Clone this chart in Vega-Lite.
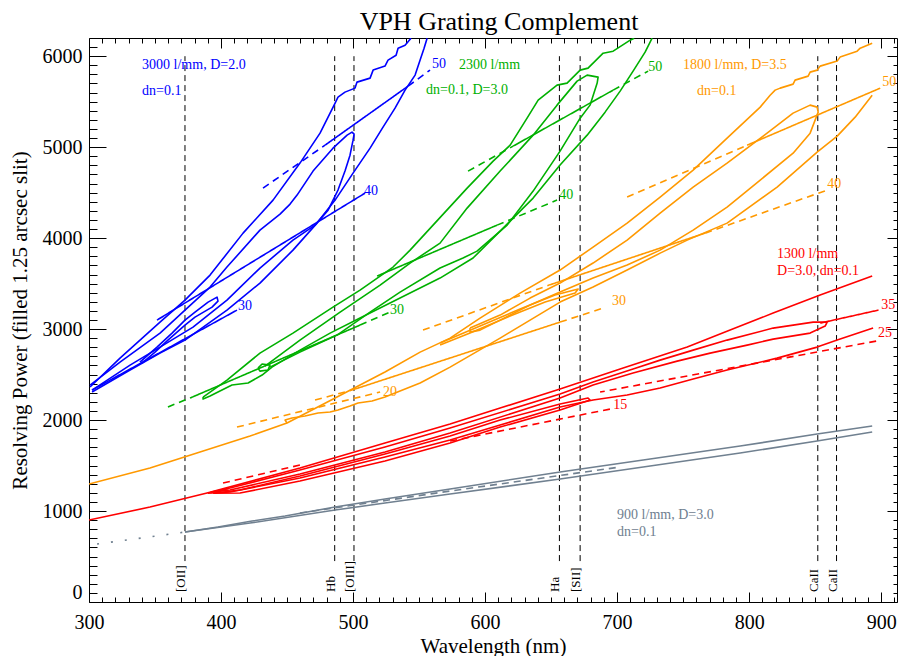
{
"$schema": "https://vega.github.io/schema/vega-lite/v6.json",
"width": 808, "height": 564,
"autosize": {"type": "none"},
"padding": {"left": 89, "top": 38, "right": 4, "bottom": 54},
"background": "white",
"title": {"text": "VPH Grating Complement", "font": "Liberation Serif", "fontSize": 26, "fontWeight": "normal", "color": "black", "anchor": "middle", "frame": "group", "offset": -18, "baseline": "alphabetic", "dx": 6},
"config": {"view": {"stroke": null}, "axis": {"labelFont": "Liberation Serif", "titleFont": "Liberation Serif", "labelColor": "black", "titleColor": "black", "domainColor": "black", "tickColor": "black", "grid": false, "titleFontWeight": "normal", "domainWidth": 1, "tickWidth": 1, "labelOverlap": false, "format": "d"}},
"datasets": {
"contours": [
{"s":"b1","g":"3000","o":0,"x":300.8,"y":2363},{"s":"b1","g":"3000","o":1,"x":323.5,"y":2681},{"s":"b1","g":"3000","o":2,"x":353.8,"y":3077},{"s":"b1","g":"3000","o":3,"x":372.7,"y":3319},{"s":"b1","g":"3000","o":4,"x":391.7,"y":3594},{"s":"b1","g":"3000","o":5,"x":416.7,"y":4055},{"s":"b1","g":"3000","o":6,"x":439.4,"y":4418},{"s":"b1","g":"3000","o":7,"x":459.8,"y":4825},{"s":"b1","g":"3000","o":8,"x":475.0,"y":5154},{"s":"b1","g":"3000","o":9,"x":486.4,"y":5484},{"s":"b1","g":"3000","o":10,"x":488.6,"y":5550},{"s":"b1","g":"3000","o":11,"x":493.9,"y":5605},{"s":"b1","g":"3000","o":12,"x":501.5,"y":5649},{"s":"b1","g":"3000","o":13,"x":503.0,"y":5715},{"s":"b1","g":"3000","o":14,"x":512.9,"y":5759},{"s":"b1","g":"3000","o":15,"x":515.2,"y":5847},{"s":"b1","g":"3000","o":16,"x":524.2,"y":5891},{"s":"b1","g":"3000","o":17,"x":526.5,"y":5957},{"s":"b1","g":"3000","o":18,"x":532.6,"y":6011},{"s":"b1","g":"3000","o":19,"x":534.1,"y":6088},{"s":"b1","g":"3000","o":20,"x":539.4,"y":6121},{"s":"b1","g":"3000","o":21,"x":543.9,"y":6198},
{"s":"b2","g":"3000","o":0,"x":556.1,"y":6198},{"s":"b2","g":"3000","o":1,"x":553.8,"y":6088},{"s":"b2","g":"3000","o":2,"x":550.8,"y":5957},{"s":"b2","g":"3000","o":3,"x":547.0,"y":5792},{"s":"b2","g":"3000","o":4,"x":539.4,"y":5627},{"s":"b2","g":"3000","o":5,"x":531.8,"y":5429},{"s":"b2","g":"3000","o":6,"x":522.7,"y":5220},{"s":"b2","g":"3000","o":7,"x":512.9,"y":4989},{"s":"b2","g":"3000","o":8,"x":500.0,"y":4715},{"s":"b2","g":"3000","o":9,"x":486.4,"y":4418},{"s":"b2","g":"3000","o":10,"x":472.7,"y":4165},{"s":"b2","g":"3000","o":11,"x":454.5,"y":3868},{"s":"b2","g":"3000","o":12,"x":429.5,"y":3506},{"s":"b2","g":"3000","o":13,"x":404.5,"y":3209},{"s":"b2","g":"3000","o":14,"x":372.7,"y":2879},{"s":"b2","g":"3000","o":15,"x":353.8,"y":2736},{"s":"b2","g":"3000","o":16,"x":331.1,"y":2550},{"s":"b2","g":"3000","o":17,"x":302.3,"y":2308},
{"s":"b3","g":"3000","o":0,"x":300.8,"y":2385},{"s":"b3","g":"3000","o":1,"x":323.5,"y":2637},{"s":"b3","g":"3000","o":2,"x":353.8,"y":2956},{"s":"b3","g":"3000","o":3,"x":372.7,"y":3209},{"s":"b3","g":"3000","o":4,"x":391.7,"y":3462},{"s":"b3","g":"3000","o":5,"x":404.5,"y":3682},{"s":"b3","g":"3000","o":6,"x":429.5,"y":4088},{"s":"b3","g":"3000","o":7,"x":444.7,"y":4264},{"s":"b3","g":"3000","o":8,"x":452.3,"y":4374},{"s":"b3","g":"3000","o":9,"x":457.6,"y":4473},{"s":"b3","g":"3000","o":10,"x":469.7,"y":4737},{"s":"b3","g":"3000","o":11,"x":484.8,"y":4989},{"s":"b3","g":"3000","o":12,"x":495.5,"y":5132},{"s":"b3","g":"3000","o":13,"x":499.2,"y":5165},{"s":"b3","g":"3000","o":14,"x":500.8,"y":5143},{"s":"b3","g":"3000","o":15,"x":500.0,"y":5077},{"s":"b3","g":"3000","o":16,"x":497.7,"y":4912},{"s":"b3","g":"3000","o":17,"x":493.9,"y":4737},{"s":"b3","g":"3000","o":18,"x":488.6,"y":4528},{"s":"b3","g":"3000","o":19,"x":481.1,"y":4308},{"s":"b3","g":"3000","o":20,"x":471.2,"y":4143},{"s":"b3","g":"3000","o":21,"x":454.5,"y":3978},{"s":"b3","g":"3000","o":22,"x":429.5,"y":3671},{"s":"b3","g":"3000","o":23,"x":404.5,"y":3319},{"s":"b3","g":"3000","o":24,"x":378.8,"y":3022},{"s":"b3","g":"3000","o":25,"x":353.8,"y":2802},{"s":"b3","g":"3000","o":26,"x":331.1,"y":2604},{"s":"b3","g":"3000","o":27,"x":302.3,"y":2330},
{"s":"b4","g":"3000","o":0,"x":338.6,"y":2637},{"s":"b4","g":"3000","o":1,"x":351.5,"y":2802},{"s":"b4","g":"3000","o":2,"x":362.9,"y":2956},{"s":"b4","g":"3000","o":3,"x":372.7,"y":3099},{"s":"b4","g":"3000","o":4,"x":380.3,"y":3187},{"s":"b4","g":"3000","o":5,"x":390.2,"y":3297},{"s":"b4","g":"3000","o":6,"x":397.0,"y":3352},{"s":"b4","g":"3000","o":7,"x":397.7,"y":3308},{"s":"b4","g":"3000","o":8,"x":393.2,"y":3242},{"s":"b4","g":"3000","o":9,"x":380.3,"y":3132},{"s":"b4","g":"3000","o":10,"x":372.7,"y":3044},{"s":"b4","g":"3000","o":11,"x":359.8,"y":2879},{"s":"b4","g":"3000","o":12,"x":350.0,"y":2747},{"s":"b4","g":"3000","o":13,"x":340.2,"y":2626},
{"s":"c1","g":"2300","o":0,"x":386.4,"y":2253},{"s":"c1","g":"2300","o":1,"x":404.5,"y":2440},{"s":"c1","g":"2300","o":2,"x":429.5,"y":2736},{"s":"c1","g":"2300","o":3,"x":454.5,"y":2956},{"s":"c1","g":"2300","o":4,"x":484.8,"y":3242},{"s":"c1","g":"2300","o":5,"x":505.3,"y":3429},{"s":"c1","g":"2300","o":6,"x":530.3,"y":3682},{"s":"c1","g":"2300","o":7,"x":543.2,"y":3868},{"s":"c1","g":"2300","o":8,"x":560.6,"y":4143},{"s":"c1","g":"2300","o":9,"x":586.4,"y":4550},{"s":"c1","g":"2300","o":10,"x":606.1,"y":4847},{"s":"c1","g":"2300","o":11,"x":619.0,"y":5022},{"s":"c1","g":"2300","o":12,"x":631.8,"y":5319},{"s":"c1","g":"2300","o":13,"x":640.2,"y":5517},{"s":"c1","g":"2300","o":14,"x":654.5,"y":5682},{"s":"c1","g":"2300","o":15,"x":662.1,"y":5704},{"s":"c1","g":"2300","o":16,"x":672.0,"y":5847},{"s":"c1","g":"2300","o":17,"x":678.0,"y":5869},{"s":"c1","g":"2300","o":18,"x":689.4,"y":6033},{"s":"c1","g":"2300","o":19,"x":697.0,"y":6055},{"s":"c1","g":"2300","o":20,"x":709.9,"y":6176},{"s":"c1","g":"2300","o":21,"x":712.9,"y":6198},
{"s":"c2","g":"2300","o":0,"x":433.3,"y":2594},{"s":"c2","g":"2300","o":1,"x":459.8,"y":2879},{"s":"c2","g":"2300","o":2,"x":490.2,"y":3187},{"s":"c2","g":"2300","o":3,"x":520.5,"y":3484},{"s":"c2","g":"2300","o":4,"x":543.2,"y":3726},{"s":"c2","g":"2300","o":5,"x":565.9,"y":3945},{"s":"c2","g":"2300","o":6,"x":586.4,"y":4330},{"s":"c2","g":"2300","o":7,"x":611.4,"y":4737},{"s":"c2","g":"2300","o":8,"x":636.4,"y":5132},{"s":"c2","g":"2300","o":9,"x":654.5,"y":5462},{"s":"c2","g":"2300","o":10,"x":669.7,"y":5726},{"s":"c2","g":"2300","o":11,"x":677.3,"y":5792},{"s":"c2","g":"2300","o":12,"x":685.6,"y":5770},{"s":"c2","g":"2300","o":13,"x":684.9,"y":5704},{"s":"c2","g":"2300","o":14,"x":679.5,"y":5462},{"s":"c2","g":"2300","o":15,"x":672.0,"y":5319},{"s":"c2","g":"2300","o":16,"x":656.8,"y":4956},{"s":"c2","g":"2300","o":17,"x":636.4,"y":4517},{"s":"c2","g":"2300","o":18,"x":616.7,"y":4143},{"s":"c2","g":"2300","o":19,"x":593.9,"y":3857},{"s":"c2","g":"2300","o":20,"x":583.3,"y":3781},{"s":"c2","g":"2300","o":21,"x":565.9,"y":3671},{"s":"c2","g":"2300","o":22,"x":535.6,"y":3407},{"s":"c2","g":"2300","o":23,"x":512.9,"y":3187},{"s":"c2","g":"2300","o":24,"x":487.9,"y":2934},{"s":"c2","g":"2300","o":25,"x":459.8,"y":2747},{"s":"c2","g":"2300","o":26,"x":437.1,"y":2582},
{"s":"c2b","g":"2300","o":0,"x":428.0,"y":2571},{"s":"c2b","g":"2300","o":1,"x":431.1,"y":2616},{"s":"c2b","g":"2300","o":2,"x":437.1,"y":2604},{"s":"c2b","g":"2300","o":3,"x":435.6,"y":2550},{"s":"c2b","g":"2300","o":4,"x":429.5,"y":2538},{"s":"c2b","g":"2300","o":5,"x":428.0,"y":2571},
{"s":"c3","g":"2300","o":0,"x":726.5,"y":6198},{"s":"c3","g":"2300","o":1,"x":721.2,"y":6044},{"s":"c3","g":"2300","o":2,"x":712.1,"y":5836},{"s":"c3","g":"2300","o":3,"x":702.3,"y":5616},{"s":"c3","g":"2300","o":4,"x":690.9,"y":5385},{"s":"c3","g":"2300","o":5,"x":677.3,"y":5132},{"s":"c3","g":"2300","o":6,"x":656.8,"y":4803},{"s":"c3","g":"2300","o":7,"x":636.4,"y":4440},{"s":"c3","g":"2300","o":8,"x":611.4,"y":4077},{"s":"c3","g":"2300","o":9,"x":590.9,"y":3781},{"s":"c3","g":"2300","o":10,"x":565.9,"y":3561},{"s":"c3","g":"2300","o":11,"x":535.6,"y":3341},{"s":"c3","g":"2300","o":12,"x":505.3,"y":3121},{"s":"c3","g":"2300","o":13,"x":482.6,"y":2956},{"s":"c3","g":"2300","o":14,"x":459.8,"y":2769},{"s":"c3","g":"2300","o":15,"x":438.6,"y":2582},{"s":"c3","g":"2300","o":16,"x":431.1,"y":2495},{"s":"c3","g":"2300","o":17,"x":420.5,"y":2407},{"s":"c3","g":"2300","o":18,"x":408.3,"y":2385},{"s":"c3","g":"2300","o":19,"x":397.7,"y":2308},{"s":"c3","g":"2300","o":20,"x":391.7,"y":2264},{"s":"c3","g":"2300","o":21,"x":386.4,"y":2231},{"s":"c3","g":"2300","o":22,"x":386.4,"y":2253},
{"s":"d1","g":"1800","o":0,"x":300.0,"y":1297},{"s":"d1","g":"1800","o":1,"x":346.2,"y":1473},{"s":"d1","g":"1800","o":2,"x":384.1,"y":1649},{"s":"d1","g":"1800","o":3,"x":422.0,"y":1824},{"s":"d1","g":"1800","o":4,"x":450.0,"y":1967},{"s":"d1","g":"1800","o":5,"x":486.4,"y":2242},{"s":"d1","g":"1800","o":6,"x":524.2,"y":2528},{"s":"d1","g":"1800","o":7,"x":550.8,"y":2747},{"s":"d1","g":"1800","o":8,"x":573.5,"y":2901},{"s":"d1","g":"1800","o":9,"x":596.2,"y":3121},{"s":"d1","g":"1800","o":10,"x":626.5,"y":3396},{"s":"d1","g":"1800","o":11,"x":656.8,"y":3649},{"s":"d1","g":"1800","o":12,"x":681.8,"y":3901},{"s":"d1","g":"1800","o":13,"x":707.6,"y":4165},{"s":"d1","g":"1800","o":14,"x":732.6,"y":4451},{"s":"d1","g":"1800","o":15,"x":757.6,"y":4748},{"s":"d1","g":"1800","o":16,"x":783.3,"y":5099},{"s":"d1","g":"1800","o":17,"x":808.4,"y":5440},{"s":"d1","g":"1800","o":18,"x":815.9,"y":5571},{"s":"d1","g":"1800","o":19,"x":819.7,"y":5627},{"s":"d1","g":"1800","o":20,"x":823.5,"y":5649},{"s":"d1","g":"1800","o":21,"x":833.3,"y":5693},{"s":"d1","g":"1800","o":22,"x":834.8,"y":5737},{"s":"d1","g":"1800","o":23,"x":844.7,"y":5781},{"s":"d1","g":"1800","o":24,"x":846.2,"y":5825},{"s":"d1","g":"1800","o":25,"x":851.5,"y":5847},{"s":"d1","g":"1800","o":26,"x":853.8,"y":5891},{"s":"d1","g":"1800","o":27,"x":866.7,"y":5946},{"s":"d1","g":"1800","o":28,"x":868.9,"y":5990},{"s":"d1","g":"1800","o":29,"x":881.8,"y":6055},{"s":"d1","g":"1800","o":30,"x":884.1,"y":6088},{"s":"d1","g":"1800","o":31,"x":893.2,"y":6143},
{"s":"d2","g":"1800","o":0,"x":450.0,"y":1967},{"s":"d2","g":"1800","o":1,"x":448.5,"y":2000},{"s":"d2","g":"1800","o":2,"x":453.8,"y":2022},{"s":"d2","g":"1800","o":3,"x":463.6,"y":2044},{"s":"d2","g":"1800","o":4,"x":473.5,"y":2077},{"s":"d2","g":"1800","o":5,"x":482.6,"y":2088},{"s":"d2","g":"1800","o":6,"x":488.6,"y":2110},{"s":"d2","g":"1800","o":7,"x":497.7,"y":2154},{"s":"d2","g":"1800","o":8,"x":503.8,"y":2187},{"s":"d2","g":"1800","o":9,"x":514.4,"y":2209},{"s":"d2","g":"1800","o":10,"x":524.2,"y":2253},{"s":"d2","g":"1800","o":11,"x":550.8,"y":2407},{"s":"d2","g":"1800","o":12,"x":573.5,"y":2582},{"s":"d2","g":"1800","o":13,"x":611.4,"y":2901},{"s":"d2","g":"1800","o":14,"x":656.8,"y":3297},{"s":"d2","g":"1800","o":15,"x":681.8,"y":3462},{"s":"d2","g":"1800","o":16,"x":707.6,"y":3649},{"s":"d2","g":"1800","o":17,"x":732.6,"y":3835},{"s":"d2","g":"1800","o":18,"x":753.1,"y":3978},{"s":"d2","g":"1800","o":19,"x":783.3,"y":4165},{"s":"d2","g":"1800","o":20,"x":821.2,"y":4561},{"s":"d2","g":"1800","o":21,"x":851.5,"y":4945},{"s":"d2","g":"1800","o":22,"x":866.7,"y":5121},{"s":"d2","g":"1800","o":23,"x":880.3,"y":5330},{"s":"d2","g":"1800","o":24,"x":893.2,"y":5571},
{"s":"d3","g":"1800","o":0,"x":588.6,"y":3011},{"s":"d3","g":"1800","o":1,"x":611.4,"y":3154},{"s":"d3","g":"1800","o":2,"x":634.1,"y":3341},{"s":"d3","g":"1800","o":3,"x":656.8,"y":3506},{"s":"d3","g":"1800","o":4,"x":681.8,"y":3726},{"s":"d3","g":"1800","o":5,"x":707.6,"y":3978},{"s":"d3","g":"1800","o":6,"x":732.6,"y":4275},{"s":"d3","g":"1800","o":7,"x":757.6,"y":4561},{"s":"d3","g":"1800","o":8,"x":783.3,"y":4825},{"s":"d3","g":"1800","o":9,"x":813.6,"y":5154},{"s":"d3","g":"1800","o":10,"x":833.3,"y":5374},{"s":"d3","g":"1800","o":11,"x":846.2,"y":5462},{"s":"d3","g":"1800","o":12,"x":851.5,"y":5440},{"s":"d3","g":"1800","o":13,"x":852.3,"y":5385},{"s":"d3","g":"1800","o":14,"x":846.2,"y":5154},{"s":"d3","g":"1800","o":15,"x":833.3,"y":4934},{"s":"d3","g":"1800","o":16,"x":808.4,"y":4638},{"s":"d3","g":"1800","o":17,"x":783.3,"y":4341},{"s":"d3","g":"1800","o":18,"x":757.6,"y":4088},{"s":"d3","g":"1800","o":19,"x":732.6,"y":3868},{"s":"d3","g":"1800","o":20,"x":707.6,"y":3704},{"s":"d3","g":"1800","o":21,"x":681.8,"y":3561},{"s":"d3","g":"1800","o":22,"x":656.8,"y":3407},{"s":"d3","g":"1800","o":23,"x":634.1,"y":3264},{"s":"d3","g":"1800","o":24,"x":611.4,"y":3099},{"s":"d3","g":"1800","o":25,"x":596.2,"y":2989},{"s":"d3","g":"1800","o":26,"x":588.6,"y":2967},{"s":"d3","g":"1800","o":27,"x":588.6,"y":3011},
{"s":"d4","g":"1800","o":0,"x":565.9,"y":2846},{"s":"d4","g":"1800","o":1,"x":596.2,"y":3033},{"s":"d4","g":"1800","o":2,"x":626.5,"y":3220},{"s":"d4","g":"1800","o":3,"x":653.0,"y":3374},{"s":"d4","g":"1800","o":4,"x":670.5,"y":3440},{"s":"d4","g":"1800","o":5,"x":668.2,"y":3396},{"s":"d4","g":"1800","o":6,"x":645.5,"y":3297},{"s":"d4","g":"1800","o":7,"x":619.0,"y":3143},{"s":"d4","g":"1800","o":8,"x":588.6,"y":2956},{"s":"d4","g":"1800","o":9,"x":565.9,"y":2824},
{"s":"e1","g":"1300","o":0,"x":300.0,"y":901},{"s":"e1","g":"1300","o":1,"x":346.2,"y":1044},{"s":"e1","g":"1300","o":2,"x":389.4,"y":1198},{"s":"e1","g":"1300","o":3,"x":459.8,"y":1473},{"s":"e1","g":"1300","o":4,"x":524.2,"y":1747},{"s":"e1","g":"1300","o":5,"x":573.5,"y":1956},{"s":"e1","g":"1300","o":6,"x":611.4,"y":2132},{"s":"e1","g":"1300","o":7,"x":656.8,"y":2341},{"s":"e1","g":"1300","o":8,"x":702.3,"y":2561},{"s":"e1","g":"1300","o":9,"x":753.1,"y":2802},{"s":"e1","g":"1300","o":10,"x":785.6,"y":2989},{"s":"e1","g":"1300","o":11,"x":818.2,"y":3176},{"s":"e1","g":"1300","o":12,"x":853.8,"y":3374},{"s":"e1","g":"1300","o":13,"x":893.2,"y":3583},
{"s":"e2","g":"1300","o":0,"x":392.0,"y":1205},{"s":"e2","g":"1300","o":1,"x":406.8,"y":1253},{"s":"e2","g":"1300","o":2,"x":459.8,"y":1451},{"s":"e2","g":"1300","o":3,"x":524.2,"y":1703},{"s":"e2","g":"1300","o":4,"x":573.5,"y":1912},{"s":"e2","g":"1300","o":5,"x":656.8,"y":2286},{"s":"e2","g":"1300","o":6,"x":681.8,"y":2418},{"s":"e2","g":"1300","o":7,"x":712.1,"y":2561},{"s":"e2","g":"1300","o":8,"x":732.6,"y":2659},{"s":"e2","g":"1300","o":9,"x":757.6,"y":2769},{"s":"e2","g":"1300","o":10,"x":783.3,"y":2879},{"s":"e2","g":"1300","o":11,"x":818.2,"y":3011},{"s":"e2","g":"1300","o":12,"x":848.5,"y":3077},{"s":"e2","g":"1300","o":13,"x":859.1,"y":3077},{"s":"e2","g":"1300","o":14,"x":857.6,"y":3033},{"s":"e2","g":"1300","o":15,"x":846.2,"y":2956},{"s":"e2","g":"1300","o":16,"x":818.2,"y":2890},{"s":"e2","g":"1300","o":17,"x":798.5,"y":2824},{"s":"e2","g":"1300","o":18,"x":770.5,"y":2736},{"s":"e2","g":"1300","o":19,"x":745.5,"y":2648},{"s":"e2","g":"1300","o":20,"x":712.1,"y":2517},{"s":"e2","g":"1300","o":21,"x":681.8,"y":2385},{"s":"e2","g":"1300","o":22,"x":656.8,"y":2242},{"s":"e2","g":"1300","o":23,"x":573.5,"y":1857},{"s":"e2","g":"1300","o":24,"x":524.2,"y":1648},{"s":"e2","g":"1300","o":25,"x":459.8,"y":1407},{"s":"e2","g":"1300","o":26,"x":406.8,"y":1231},{"s":"e2","g":"1300","o":27,"x":392.0,"y":1205},
{"s":"e4","g":"1300","o":0,"x":893.9,"y":3011},{"s":"e4","g":"1300","o":1,"x":866.7,"y":2879},{"s":"e4","g":"1300","o":2,"x":851.5,"y":2802},{"s":"e4","g":"1300","o":3,"x":821.2,"y":2681},{"s":"e4","g":"1300","o":4,"x":783.3,"y":2550},{"s":"e4","g":"1300","o":5,"x":757.6,"y":2451},{"s":"e4","g":"1300","o":6,"x":732.6,"y":2352},{"s":"e4","g":"1300","o":7,"x":707.6,"y":2275},{"s":"e4","g":"1300","o":8,"x":681.8,"y":2220},{"s":"e4","g":"1300","o":9,"x":656.8,"y":2143},{"s":"e4","g":"1300","o":10,"x":611.4,"y":1945},{"s":"e4","g":"1300","o":11,"x":573.5,"y":1780},{"s":"e4","g":"1300","o":12,"x":524.2,"y":1594},{"s":"e4","g":"1300","o":13,"x":459.8,"y":1363},{"s":"e4","g":"1300","o":14,"x":406.8,"y":1209},{"s":"e4","g":"1300","o":15,"x":390.0,"y":1195},
{"s":"e5","g":"1300","o":0,"x":394.0,"y":1195},{"s":"e5","g":"1300","o":1,"x":414.4,"y":1231},{"s":"e5","g":"1300","o":2,"x":459.8,"y":1385},{"s":"e5","g":"1300","o":3,"x":524.2,"y":1626},{"s":"e5","g":"1300","o":4,"x":573.5,"y":1824},{"s":"e5","g":"1300","o":5,"x":611.4,"y":2000},{"s":"e5","g":"1300","o":6,"x":656.8,"y":2176},{"s":"e5","g":"1300","o":7,"x":678.0,"y":2242},{"s":"e5","g":"1300","o":8,"x":679.5,"y":2220},{"s":"e5","g":"1300","o":9,"x":656.8,"y":2110},{"s":"e5","g":"1300","o":10,"x":611.4,"y":1923},{"s":"e5","g":"1300","o":11,"x":573.5,"y":1747},{"s":"e5","g":"1300","o":12,"x":524.2,"y":1550},{"s":"e5","g":"1300","o":13,"x":459.8,"y":1330},{"s":"e5","g":"1300","o":14,"x":414.4,"y":1198},{"s":"e5","g":"1300","o":15,"x":394.0,"y":1195},
{"s":"f2","g":"900","o":0,"x":372.7,"y":769},{"s":"f2","g":"900","o":1,"x":397.7,"y":824},{"s":"f2","g":"900","o":2,"x":423.5,"y":890},{"s":"f2","g":"900","o":3,"x":448.5,"y":945},{"s":"f2","g":"900","o":4,"x":486.4,"y":1044},{"s":"f2","g":"900","o":5,"x":524.2,"y":1132},{"s":"f2","g":"900","o":6,"x":573.5,"y":1242},{"s":"f2","g":"900","o":7,"x":656.8,"y":1429},{"s":"f2","g":"900","o":8,"x":725.0,"y":1572},{"s":"f2","g":"900","o":9,"x":793.2,"y":1714},{"s":"f2","g":"900","o":10,"x":851.5,"y":1846},{"s":"f2","g":"900","o":11,"x":893.2,"y":1934},
{"s":"f3","g":"900","o":0,"x":372.7,"y":769},{"s":"f3","g":"900","o":1,"x":422.0,"y":868},{"s":"f3","g":"900","o":2,"x":486.4,"y":1011},{"s":"f3","g":"900","o":3,"x":524.2,"y":1088},{"s":"f3","g":"900","o":4,"x":573.5,"y":1187},{"s":"f3","g":"900","o":5,"x":656.8,"y":1352},{"s":"f3","g":"900","o":6,"x":725.0,"y":1495},{"s":"f3","g":"900","o":7,"x":793.2,"y":1638},{"s":"f3","g":"900","o":8,"x":851.5,"y":1769},{"s":"f3","g":"900","o":9,"x":893.2,"y":1868}
],
"angles": [
{"s":"b5","g":"3000","k":"in","o":0,"x":351.5,"y":3099},{"s":"b5","g":"3000","k":"in","o":1,"x":509.1,"y":4495},
{"s":"b6","g":"3000","k":"in","o":0,"x":302.3,"y":2330},{"s":"b6","g":"3000","k":"in","o":1,"x":412.1,"y":3209},
{"s":"b7","g":"3000","k":"out","o":0,"x":431.8,"y":4550},{"s":"b7","g":"3000","k":"out","o":1,"x":478.8,"y":5022},
{"s":"b8","g":"3000","k":"in","o":0,"x":478.8,"y":5022},{"s":"b8","g":"3000","k":"in","o":1,"x":541.7,"y":5671},
{"s":"b9","g":"3000","k":"out","o":0,"x":541.7,"y":5671},{"s":"b9","g":"3000","k":"out","o":1,"x":558.3,"y":5847},
{"s":"c4a","g":"2300","k":"out","o":0,"x":359.8,"y":2143},{"s":"c4a","g":"2300","k":"out","o":1,"x":374.2,"y":2231},
{"s":"c4b","g":"2300","k":"in","o":0,"x":376.5,"y":2242},{"s":"c4b","g":"2300","k":"in","o":1,"x":505.3,"y":3044},
{"s":"c4c","g":"2300","k":"out","o":0,"x":505.3,"y":3044},{"s":"c4c","g":"2300","k":"out","o":1,"x":528.0,"y":3187},
{"s":"c5a","g":"2300","k":"in","o":0,"x":518.2,"y":3583},{"s":"c5a","g":"2300","k":"in","o":1,"x":609.1,"y":4143},
{"s":"c5b","g":"2300","k":"out","o":0,"x":609.1,"y":4143},{"s":"c5b","g":"2300","k":"out","o":1,"x":654.5,"y":4418},
{"s":"c6a","g":"2300","k":"out","o":0,"x":587.1,"y":4737},{"s":"c6a","g":"2300","k":"out","o":1,"x":621.2,"y":5011},
{"s":"c6b","g":"2300","k":"in","o":0,"x":621.2,"y":5011},{"s":"c6b","g":"2300","k":"in","o":1,"x":697.0,"y":5627},
{"s":"c6c","g":"2300","k":"out","o":0,"x":697.0,"y":5627},{"s":"c6c","g":"2300","k":"out","o":1,"x":723.5,"y":5836},
{"s":"d5a","g":"1800","k":"out","o":0,"x":707.6,"y":4451},{"s":"d5a","g":"1800","k":"out","o":1,"x":798.5,"y":5022},
{"s":"d5b","g":"1800","k":"in","o":0,"x":798.5,"y":5022},{"s":"d5b","g":"1800","k":"in","o":1,"x":899.3,"y":5649},
{"s":"d6a","g":"1800","k":"out","o":0,"x":553.0,"y":2989},{"s":"d6a","g":"1800","k":"out","o":1,"x":648.5,"y":3484},
{"s":"d6b","g":"1800","k":"in","o":0,"x":648.5,"y":3484},{"s":"d6b","g":"1800","k":"in","o":1,"x":766.7,"y":4055},
{"s":"d6c","g":"1800","k":"out","o":0,"x":766.7,"y":4055},{"s":"d6c","g":"1800","k":"out","o":1,"x":859.1,"y":4528},
{"s":"d7a","g":"1800","k":"out","o":0,"x":471.2,"y":2220},{"s":"d7a","g":"1800","k":"out","o":1,"x":499.2,"y":2330},
{"s":"d7b","g":"1800","k":"in","o":0,"x":499.2,"y":2330},{"s":"d7b","g":"1800","k":"in","o":1,"x":656.8,"y":3077},
{"s":"d7c","g":"1800","k":"out","o":0,"x":656.8,"y":3077},{"s":"d7c","g":"1800","k":"out","o":1,"x":689.4,"y":3231},
{"s":"d8","g":"1800","k":"out","o":0,"x":412.1,"y":1923},{"s":"d8","g":"1800","k":"out","o":1,"x":520.5,"y":2308},
{"s":"e3","g":"1300","k":"in","o":0,"x":853.8,"y":3066},{"s":"e3","g":"1300","k":"in","o":1,"x":898.0,"y":3209},
{"s":"e6","g":"1300","k":"out","o":0,"x":896.2,"y":2868},{"s":"e6","g":"1300","k":"out","o":1,"x":687.1,"y":2308},
{"s":"e7","g":"1300","k":"out","o":0,"x":573.5,"y":1769},{"s":"e7","g":"1300","k":"out","o":1,"x":694.7,"y":2121},
{"s":"e8","g":"1300","k":"out","o":0,"x":401.5,"y":1308},{"s":"e8","g":"1300","k":"out","o":1,"x":459.8,"y":1506},
{"s":"f1","g":"900","k":"dot","o":0,"x":306.1,"y":637},{"s":"f1","g":"900","k":"dot","o":1,"x":372.7,"y":769},
{"s":"f4","g":"900","k":"out","o":0,"x":459.8,"y":978},{"s":"f4","g":"900","k":"out","o":1,"x":573.5,"y":1220},{"s":"f4","g":"900","k":"out","o":2,"x":702.3,"y":1484}
],
"lines": [
{"t":"[OII]","x":372.7},{"t":"Hb","x":486.1},{"t":"[OIII]","x":500.7},{"t":"Ha","x":656.3},{"t":"[SII]","x":672.0},{"t":"CaII","x":852.0},{"t":"CaII","x":866.2}
],
"glabels": [
{"g":"3000","t":"3000 l/mm, D=2.0","x":340.2,"y":5902},
{"g":"3000","t":"dn=0.1","x":340.2,"y":5616},
{"g":"2300","t":"2300 l/mm","x":580.3,"y":5902},
{"g":"2300","t":"dn=0.1, D=3.0","x":555.3,"y":5627},
{"g":"1800","t":"1800 l/mm, D=3.5","x":750.0,"y":5902},
{"g":"1800","t":"dn=0.1","x":760.6,"y":5616},
{"g":"1300","t":"1300 l/mm","x":821.2,"y":3825},
{"g":"1300","t":"D=3.0, dn=0.1","x":821.2,"y":3638},
{"g":"900","t":"900 l/mm, D=3.0","x":700.0,"y":956},
{"g":"900","t":"dn=0.1","x":700.0,"y":769}
],
"alabels": [
{"g":"3000","t":"50","x":559.8,"y":5913},
{"g":"3000","t":"40","x":508.3,"y":4517},
{"g":"3000","t":"30","x":412.9,"y":3253},
{"g":"2300","t":"50","x":723.5,"y":5880},
{"g":"2300","t":"40","x":656.1,"y":4473},
{"g":"2300","t":"30","x":528.0,"y":3209},
{"g":"1800","t":"50","x":900.8,"y":5715},
{"g":"1800","t":"40","x":859.1,"y":4594},
{"g":"1800","t":"30","x":696.2,"y":3308},
{"g":"1800","t":"20","x":522.7,"y":2308},
{"g":"1300","t":"35","x":900.0,"y":3264},
{"g":"1300","t":"25","x":897.7,"y":2956},
{"g":"1300","t":"15","x":697.0,"y":2165}
]
},
"layer": [
{"data": {"name": "lines"},
 "mark": {"type": "rule", "color": "black", "strokeWidth": 1, "strokeDash": [6, 4]},
 "encoding": {
  "x": {"field": "x", "type": "quantitative", "axis": null},
  "y": {"datum": 450, "type": "quantitative", "axis": null},
  "y2": {"datum": 6000}}},
{"data": {"name": "contours"},
 "mark": {"type": "line", "strokeWidth": 1.6, "strokeJoin": "round", "clip": true},
 "encoding": {
  "x": {"field": "x", "type": "quantitative", "scale": {"domain": [300, 912], "nice": false, "zero": false},
        "axis": {"orient": "bottom", "values": [300,400,500,600,700,800,900], "tickSize": -10, "labelPadding": 20, "labelFontSize": 20, "labelFlush": false, "title": "Wavelength (nm)", "titleFontSize": 21, "titlePadding": 3}},
  "y": {"field": "y", "type": "quantitative", "scale": {"domain": [0, 6200], "nice": false, "zero": false},
        "axis": {"orient": "left", "values": [0,1000,2000,3000,4000,5000,6000], "tickSize": -17, "labelPadding": 24, "labelFontSize": 20, "labelFlush": true, "title": "Resolving Power (filled 1.25 arcsec slit)", "titleFontSize": 21, "titlePadding": 12}},
  "color": {"field": "g", "type": "nominal", "scale": {"domain": ["3000","2300","1800","1300","900"], "range": ["#0000ff","#00b000","#ff9900","#ff0000","#708090"]}, "legend": null},
  "detail": {"field": "s"},
  "order": {"field": "o", "type": "quantitative"}}},
{"data": {"name": "angles"},
 "mark": {"type": "line", "strokeWidth": 1.6, "clip": true},
 "encoding": {
  "x": {"field": "x", "type": "quantitative",
        "axis": {"orient": "bottom", "values": [310,320,330,340,350,360,370,380,390,410,420,430,440,450,460,470,480,490,510,520,530,540,550,560,570,580,590,610,620,630,640,650,660,670,680,690,710,720,730,740,750,760,770,780,790,810,820,830,840,850,860,870,880,890,910], "tickSize": -5, "labels": false, "title": null, "domain": false}},
  "y": {"field": "y", "type": "quantitative",
        "axis": {"orient": "left", "values": [100,200,300,400,500,600,700,800,900,1100,1200,1300,1400,1500,1600,1700,1800,1900,2100,2200,2300,2400,2500,2600,2700,2800,2900,3100,3200,3300,3400,3500,3600,3700,3800,3900,4100,4200,4300,4400,4500,4600,4700,4800,4900,5100,5200,5300,5400,5500,5600,5700,5800,5900,6100], "tickSize": -8, "labels": false, "title": null, "domain": false}},
  "color": {"field": "g", "type": "nominal", "legend": null},
  "strokeDash": {"field": "k", "type": "nominal", "scale": {"domain": ["in","out","dot"], "range": [[1,0],[7,5],[2,12]]}, "legend": null},
  "detail": {"field": "s"},
  "order": {"field": "o", "type": "quantitative"}}},
{"data": {"name": "glabels"},
 "mark": {"type": "text", "align": "left", "baseline": "middle", "font": "Liberation Serif", "fontSize": 14},
 "encoding": {
  "x": {"field": "x", "type": "quantitative",
        "axis": {"orient": "top", "values": [300,400,500,600,700,800,900], "tickSize": -10, "labels": false, "title": null}},
  "y": {"field": "y", "type": "quantitative",
        "axis": {"orient": "right", "values": [0,1000,2000,3000,4000,5000,6000], "tickSize": -10, "labels": false, "title": null}},
  "color": {"field": "g", "type": "nominal", "legend": null},
  "text": {"field": "t"}}},
{"data": {"name": "alabels"},
 "mark": {"type": "text", "align": "left", "baseline": "middle", "font": "Liberation Serif", "fontSize": 14},
 "encoding": {
  "x": {"field": "x", "type": "quantitative",
        "axis": {"orient": "top", "values": [310,320,330,340,350,360,370,380,390,410,420,430,440,450,460,470,480,490,510,520,530,540,550,560,570,580,590,610,620,630,640,650,660,670,680,690,710,720,730,740,750,760,770,780,790,810,820,830,840,850,860,870,880,890,910], "tickSize": -5, "labels": false, "title": null, "domain": false}},
  "y": {"field": "y", "type": "quantitative",
        "axis": {"orient": "right", "values": [100,200,300,400,500,600,700,800,900,1100,1200,1300,1400,1500,1600,1700,1800,1900,2100,2200,2300,2400,2500,2600,2700,2800,2900,3100,3200,3300,3400,3500,3600,3700,3800,3900,4100,4200,4300,4400,4500,4600,4700,4800,4900,5100,5200,5300,5400,5500,5600,5700,5800,5900,6100], "tickSize": -4, "labels": false, "title": null, "domain": false}},
  "color": {"field": "g", "type": "nominal", "legend": null},
  "text": {"field": "t"}}},
{"data": {"name": "lines"},
 "mark": {"type": "text", "angle": 270, "align": "left", "baseline": "alphabetic", "font": "Liberation Serif", "fontSize": 13, "color": "black"},
 "encoding": {
  "x": {"field": "x", "type": "quantitative", "axis": null},
  "y": {"datum": 110, "type": "quantitative", "axis": null},
  "text": {"field": "t"}}}
],
"resolve": {"scale": {"x": "shared", "y": "shared", "color": "shared"}, "axis": {"x": "independent", "y": "independent"}}
}
